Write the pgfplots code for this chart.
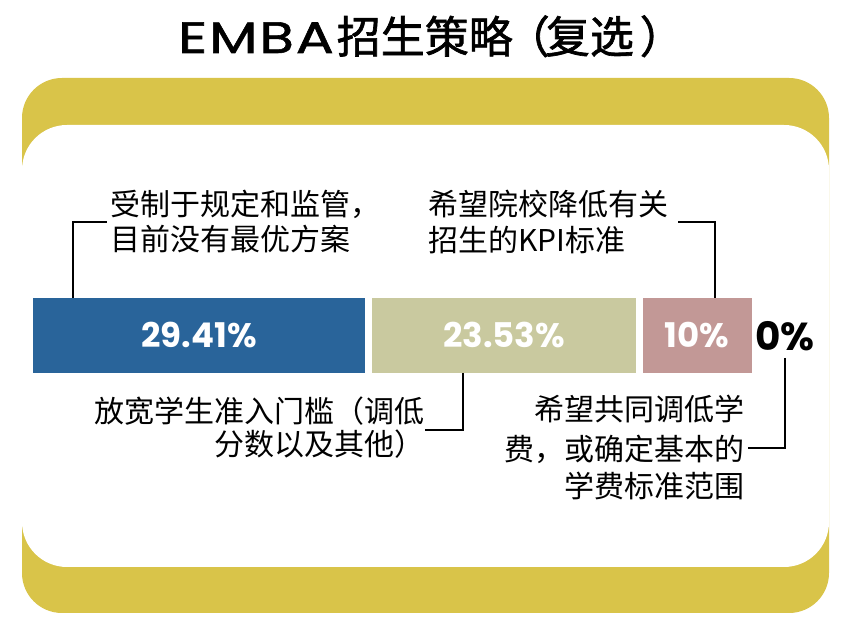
\documentclass[border=0pt]{standalone}
\usepackage{pgfplots}
\pgfplotsset{compat=1.18}
\usepackage{fontspec}
\setmainfont{Noto Sans CJK SC}
\newfontfamily\pop{Poppins}
\newfontfamily\titlecjk[FakeBold=1.5]{Noto Sans CJK SC}
\newfontfamily\titlelat[FakeBold=1.2]{Poppins}
\definecolor{cblue}{HTML}{29649A}
\definecolor{ckhaki}{HTML}{C9C99F}
\definecolor{cpink}{HTML}{C29896}
\definecolor{cyellow}{HTML}{D9C449}
\begin{document}
\begin{tikzpicture}[x=1bp,y=1bp]
\fill[white] (0,0) rectangle (854,640);
\fill[cyellow, rounded corners=40bp] (22,27) rectangle (829,562);
\fill[white, rounded corners=45bp] (22,73) rectangle (829,515);
\node[anchor=base west, inner sep=0] at (178,587) {\fontsize{44bp}{44bp}\selectfont\scalebox{1.28}[1]{\titlelat E\kern1.5bp M\kern1.5bp B\kern1.5bp A}\kern3bp\titlecjk 招生策略\kern-7bp（\kern-4bp复选\kern6bp）};
\begin{axis}[at={(0,0)}, anchor=south west, scale only axis, width=854bp, height=640bp,
  xmin=-2.582, xmax=71.55, ymin=0, ymax=640, hide axis, xbar stacked, bar width=81.5, clip=false]
\addplot[fill=cblue, draw=white, line width=6.5bp] coordinates {(29.41,304.5)};
\addplot[fill=ckhaki, draw=white, line width=6.5bp] coordinates {(23.53,304.5)};
\addplot[fill=cpink, draw=white, line width=6.5bp] coordinates {(10,304.5)};
\addplot[fill=none, draw=none] coordinates {(0,304.5)};
\coordinate (p1) at (axis cs:14.705,305);
\coordinate (p2) at (axis cs:41.175,305);
\coordinate (p3) at (axis cs:57.94,305);
\coordinate (p4) at (axis cs:62.94,304);
\end{axis}
\begin{scope}[every node/.style={text=white, inner sep=0, font=\pop\fontsize{34bp}{34bp}\selectfont\bfseries}]
\node at (p1) {29.41\%};
\node at (p2) {23.53\%};
\node at (p3) {10\%};
\end{scope}
\node[text=black, anchor=west, inner sep=0, font=\pop\fontsize{39bp}{39bp}\selectfont\bfseries] at (p4) {0\%};
\begin{scope}[line width=1.3bp]
\draw (73,342) -- (73,418) -- (107,418);
\draw (715,342) -- (715,418) -- (678,418);
\draw (463,267) -- (463,210) -- (425,210);
\draw (785,282) -- (785,192) -- (748,192);
\end{scope}
\begin{scope}[every node/.style={inner sep=0, font=\fontsize{30bp}{36bp}\selectfont}]
\node[anchor=base west] at (110,424) {受制于规定和监管，};
\node[anchor=base west] at (110,389) {目前没有最优方案};
\node[anchor=base west] at (428,424) {希望院校降低有关};
\node[anchor=base west] at (428,388) {招生的KPI标准};
\node[anchor=base east] at (425,217) {放宽学生准入门槛（调低};
\node[anchor=base east] at (425,184) {分数以及其他）};
\node[anchor=base east] at (745,219) {希望共同调低学};
\node[anchor=base east] at (745,179) {费，或确定基本的};
\node[anchor=base east] at (745,142) {学费标准范围};
\end{scope}
\end{tikzpicture}
\end{document}
